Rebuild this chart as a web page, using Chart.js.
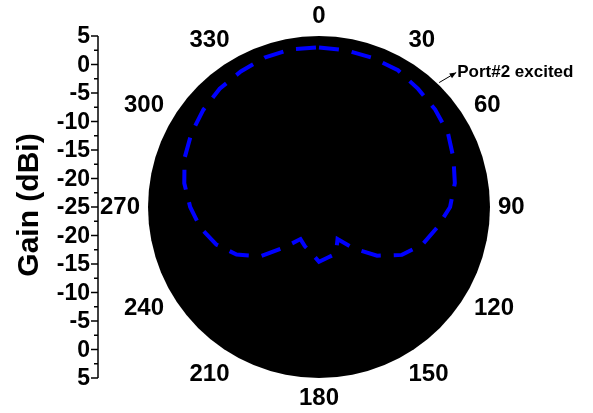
<!DOCTYPE html>
<html>
<head>
<meta charset="utf-8">
<script src="https://cdn.jsdelivr.net/npm/chart.js@4.4.1/dist/chart.umd.min.js"></script>
<style>
  html, body { margin: 0; padding: 0; background: #fff; }
  #wrap { position: relative; width: 593px; height: 413px; }
</style>
</head>
<body>
<div id="wrap"><canvas id="polar"></canvas></div>
<script>
// Azimuth angles (degrees, clockwise from top)
const angles = [0, 10, 20, 30, 40, 50, 60, 70, 80, 90, 100, 110,
                120, 130, 140, 150, 160, 170, 180, 190, 200, 210, 220, 230,
                240, 250, 260, 270, 280, 290, 300, 310, 320, 330, 340, 350];

// Measured gain, Port#2 excited (dBi)
const gainPort2 = [3.0, 2.9, 2.8, 2.7, 2.05, 1.6, 1.1, 0.1, -0.8, -2.0, -4.0, -5.7,
                   -8.2, -11.7, -15.5, -18.5, -16.3, -16.0, -15.4, -16.9, -17.7, -18.5, -15.9, -11.5,
                   -8.3, -5.8, -3.9, -2.4, -1.0, 0.1, 0.85, 1.5, 2.1, 2.45, 2.9, 3.1];

// Radial range and the labels printed on the left gain axis (top to bottom)
const gainMin = -25;
const gainMax = 5;
const gainAxisLabels = [5, 0, -5, -10, -15, -20, -25, -20, -15, -10, -5, 0, 5];
const gainMinorStep = 2.5;
const angleLabelEvery = 30;

const FONT = "'Liberation Sans', Arial, Helvetica, sans-serif";

// Left-hand gain axis, mirrored about the pole, plus the annotation
const gainAxisPlugin = {
  id: 'gainAxis',
  afterDraw(chart) {
    const s = chart.scales.r;
    const ctx = chart.ctx;
    const cy = s.yCenter;
    const axisX = 98;
    const yAt = (v, side) => cy + side * s.getDistanceFromCenterForValue(v);
    const centerIdx = gainAxisLabels.indexOf(gainMin);

    ctx.save();
    ctx.strokeStyle = '#000';
    ctx.lineWidth = 1.5;
    ctx.beginPath();
    ctx.moveTo(axisX, yAt(gainMax, -1));
    ctx.lineTo(axisX, yAt(gainMax, 1));
    ctx.stroke();

    ctx.fillStyle = '#000';
    ctx.font = 'bold 23px ' + FONT;
    ctx.textAlign = 'right';
    ctx.textBaseline = 'middle';
    gainAxisLabels.forEach((v, i) => {
      const side = i < centerIdx ? -1 : (i > centerIdx ? 1 : 0);
      const y = yAt(v, side);
      ctx.beginPath();
      ctx.moveTo(axisX - 7, y);
      ctx.lineTo(axisX, y);
      ctx.stroke();
      ctx.fillText(String(v), axisX - 8, y + 1);
    });
    for (let v = gainMax - gainMinorStep; v > gainMin; v -= 5) {
      [-1, 1].forEach(side => {
        const y = yAt(v, side);
        ctx.beginPath();
        ctx.moveTo(axisX - 4, y);
        ctx.lineTo(axisX, y);
        ctx.stroke();
      });
    }

    // axis title
    ctx.save();
    ctx.translate(30, cy - 2);
    ctx.rotate(-Math.PI / 2);
    ctx.textAlign = 'center';
    ctx.textBaseline = 'middle';
    ctx.font = 'bold 30px ' + FONT;
    ctx.fillText('Gain (dBi)', 0, 0);
    ctx.restore();

    // "Port#2 excited" callout with arrow
    const step = angles[1] - angles[0];
    const tail = s.getPointPosition(44 / step, s.drawingArea + 2);
    const head = { x: tail.x + 17, y: tail.y - 10 };
    ctx.lineWidth = 1;
    ctx.beginPath();
    ctx.moveTo(tail.x, tail.y);
    ctx.lineTo(head.x, head.y);
    ctx.stroke();
    const ang = Math.atan2(head.y - tail.y, head.x - tail.x);
    ctx.beginPath();
    ctx.moveTo(head.x, head.y);
    ctx.lineTo(head.x - 7 * Math.cos(ang - 0.4), head.y - 7 * Math.sin(ang - 0.4));
    ctx.lineTo(head.x - 7 * Math.cos(ang + 0.4), head.y - 7 * Math.sin(ang + 0.4));
    ctx.closePath();
    ctx.fill();
    ctx.font = 'bold 17px ' + FONT;
    ctx.textAlign = 'left';
    ctx.textBaseline = 'middle';
    ctx.fillText('Port#2 excited', head.x + 1, head.y);
    ctx.restore();
  }
};

new Chart(document.getElementById('polar'), {
  type: 'radar',
  data: {
    labels: angles.map(String),
    datasets: [{
      label: 'Port#2 excited',
      data: gainPort2,
      borderColor: '#0000ff',
      borderWidth: 4,
      borderDash: [20, 13],
      borderCapStyle: 'butt',
      borderJoinStyle: 'miter',
      fill: false,
      tension: 0,
      pointRadius: 0,
      pointHoverRadius: 0
    }]
  },
  options: {
    responsive: true,
    maintainAspectRatio: false,
    animation: false,
    events: [],
    layout: { padding: { left: 45, right: 0, top: 4, bottom: 3 } },
    plugins: {
      legend: { display: false },
      tooltip: { enabled: false }
    },
    scales: {
      r: {
        min: gainMin,
        max: gainMax,
        startAngle: 0,
        backgroundColor: '#000000',
        grid: { display: false, circular: true },
        angleLines: { display: false },
        ticks: { display: false },
        pointLabels: {
          display: true,
          padding: 8,
          color: '#000',
          font: { family: FONT, size: 24, weight: 'bold', lineHeight: 1.0 },
          callback: (label) => (Number(label) % angleLabelEvery === 0 ? label : '')
        }
      }
    }
  },
  plugins: [gainAxisPlugin]
});
</script>
</body>
</html>
